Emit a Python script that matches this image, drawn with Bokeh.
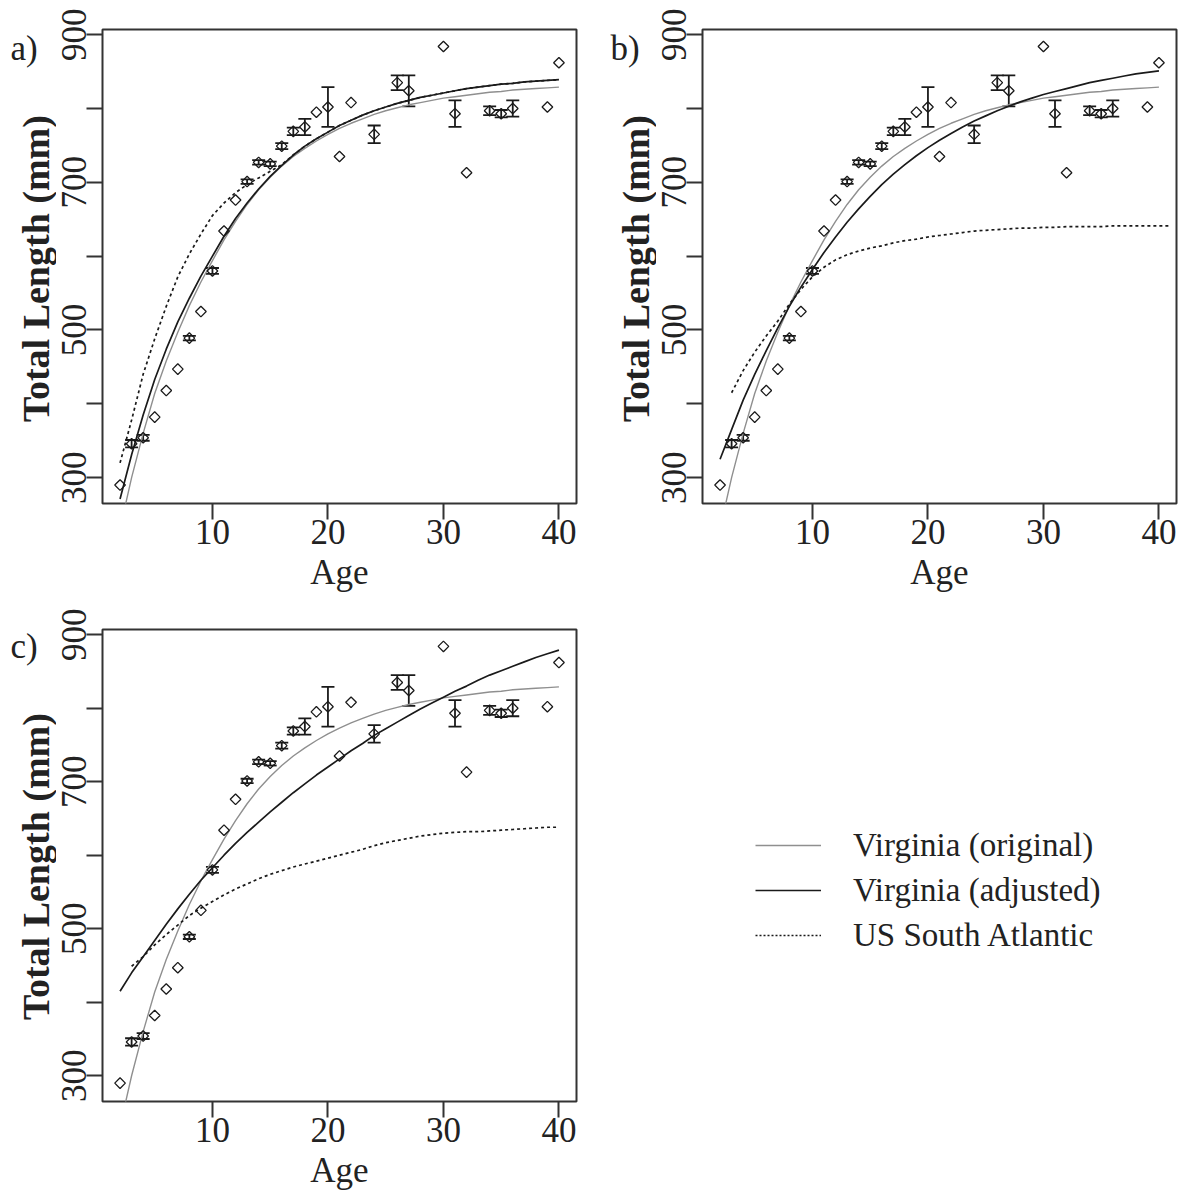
import numpy as np
from bokeh.plotting import figure
from bokeh.models import (ColumnDataSource, Whisker, TeeHead, Label, FixedTicker,
                          Legend, LegendItem, Range1d)
from bokeh.layouts import column, row
from bokeh.embed import file_html
from bokeh.resources import INLINE

# ---------------- data ----------------
pt_age = [2, 3, 4, 5, 6, 7, 8, 9, 10, 11, 12, 13, 14, 15, 16, 17, 18, 19, 20, 21, 22,
          24, 26, 27, 30, 31, 32, 34, 35, 36, 39, 40]
pt_len = [290, 346, 354, 382, 418, 447, 489, 525, 580, 634, 676, 701, 727, 725, 749, 769,
          775, 795, 802, 735, 808, 765, 835, 824, 884, 793, 713, 797, 793, 800, 802, 862]
pt_se = [0, 5, 4, 0, 0, 0, 3, 0, 4, 0, 0, 3, 3, 3, 4, 5, 11, 0, 27, 0, 0,
         12, 10, 21, 0, 18, 0, 6, 5, 11, 0, 0]

curve_age = [2, 3, 4, 5, 6, 7, 8, 9, 10, 11, 12, 13, 14, 15, 16, 17, 18, 19, 20, 21,
             22, 23, 24, 25, 26, 27, 28, 29, 30, 31, 32, 33, 34, 35, 36, 37, 38, 39, 40]

va_original = [231, 300, 360, 414, 458, 497, 533, 565, 594, 622, 647, 670, 690, 707, 722,
               735, 746, 756, 765, 773, 780, 786, 792, 797, 801, 805, 808, 811, 814, 816,
               818, 820, 822, 823, 825, 826, 827, 828, 829]

a_adjusted = [271, 331, 385, 433, 474, 511, 543, 573, 600, 627, 651, 672, 691, 708, 723,
              737, 749, 759, 768, 777, 784, 791, 797, 802, 807, 811, 815, 818, 821, 824,
              827, 829, 831, 833, 834, 836, 837, 838, 839]
a_sa_age = curve_age
a_south_atl = [320, 378, 440, 488, 532, 572, 603, 630, 655, 672, 686, 697, 706, 715, 724,
               737, 749, 759, 768, 777, 784, 791, 797, 802, 807, 811, 815, 818, 821, 824,
               827, 829, 831, 833, 834, 836, 837, 838, 839]

b_adjusted = [325, 365, 405, 440, 472, 503, 532, 558, 582, 605, 626, 646, 664, 681, 697,
              711, 724, 736, 747, 757, 766, 775, 783, 790, 797, 803, 809, 814, 819, 823,
              827, 831, 835, 838, 841, 844, 847, 849, 851]
b_sa_age = [3, 4, 5, 6, 7, 8, 9, 10, 11, 12, 13, 14, 15, 16, 17, 18, 19, 20, 21, 22, 23,
            24, 25, 26, 27, 28, 29, 30, 31, 32, 33, 34, 35, 36, 37, 38, 39, 40, 41]
b_south_atl = [415, 445, 470, 492, 512, 535, 555, 572, 585, 595, 602, 607, 611, 614, 618,
               621, 623, 626, 628, 630, 632, 634, 635, 636, 637, 638, 638, 639, 639, 640,
               640, 640, 640, 641, 641, 641, 641, 641, 641]

c_adjusted = [415, 440, 462, 484, 506, 527, 547, 566, 583, 600, 616, 631, 645, 659, 672,
              685, 697, 709, 720, 731, 742, 752, 763, 772, 781, 790, 799, 807, 815, 823,
              830, 838, 845, 851, 857, 863, 869, 874, 879]
c_sa_age = [3, 4, 5, 6, 7, 8, 9, 10, 11, 12, 13, 14, 15, 16, 17, 18, 19, 20, 21, 22, 23,
            24, 25, 26, 27, 28, 29, 30, 31, 32, 33, 34, 35, 36, 37, 38, 39, 40]
c_south_atl = [449, 462, 478, 492, 505, 518, 528, 537, 546, 554, 561, 568, 574, 579, 584,
               588, 592, 596, 600, 604, 608, 613, 617, 620, 623, 626, 628, 630, 631, 632,
               632, 633, 634, 635, 636, 637, 638, 638]

x_ticks = [10, 20, 30, 40]
y_ticks = [300, 400, 500, 600, 700, 800, 900]
y_labelled = [300, 500, 700, 900]
legend_labels = ["Virginia (original)", "Virginia (adjusted)", "US South Atlantic"]
panel_letters = ["a)", "b)", "c)"]
y_title = "Total Length (mm)"
x_title = "Age"

# ---------------- styling ----------------
FONT = "Liberation Serif"
GREY = "#8f8f8f"
INK = "#1a1a1a"
TXT = "#222222"
STRIP_W = 56
FRAME_H = 474  # plot box height; strips share the row's aligned frame


def blank(width, height):
    f = figure(width=width, height=height, output_backend="svg", toolbar_location=None,
               x_range=Range1d(0, 1), y_range=Range1d(0, 1), min_border=0,
               x_axis_location=None, y_axis_location=None)
    f.outline_line_color = None
    f.grid.visible = False
    f.background_fill_color = "white"
    f.border_fill_color = "white"
    return f


def strip(letter, height):
    s = blank(STRIP_W, height)
    # y positions measured from the bottom of the (row-aligned) frame
    s.add_layout(Label(x=10, y=FRAME_H - 19, x_units="screen", y_units="screen",
                       text=letter, text_font=FONT, text_font_size="35px", text_color=TXT,
                       text_align="left", text_baseline="middle"))
    s.add_layout(Label(x=35, y=FRAME_H / 2 - 2, x_units="screen", y_units="screen",
                       text=y_title, angle=np.pi / 2, text_font=FONT,
                       text_font_size="38px", text_font_style="bold", text_color=TXT,
                       text_align="center", text_baseline="middle"))
    return s


def make_panel(adjusted, sa_age, south_atl, width, height, bottom, right):
    p = figure(width=width, height=height, output_backend="svg", toolbar_location=None,
               x_range=Range1d(0.48, 41.52), y_range=Range1d(265, 907),
               min_border_left=102 - STRIP_W, min_border_right=right,
               min_border_top=29, min_border_bottom=bottom)
    p.background_fill_color = "white"
    p.border_fill_color = "white"
    p.outline_line_color = "#333333"
    p.outline_line_width = 2
    p.grid.visible = False

    p.xaxis.ticker = FixedTicker(ticks=x_ticks)
    p.yaxis.ticker = FixedTicker(ticks=y_ticks)
    p.yaxis.major_label_overrides = {t: "" for t in y_ticks if t not in y_labelled}
    for ax in p.axis:
        ax.axis_line_color = None
        ax.major_tick_out = 16
        ax.major_tick_in = 0
        ax.minor_tick_line_color = None
        ax.major_tick_line_width = 2
        ax.major_tick_line_color = "#333333"
        ax.major_label_text_font = FONT
        ax.major_label_text_font_size = "35px"
        ax.major_label_text_color = TXT
        ax.axis_label_text_font = FONT
        ax.axis_label_text_color = TXT
        ax.axis_label_text_font_style = "normal"
    p.yaxis.major_label_orientation = "vertical"
    p.yaxis.major_label_standoff = 0
    p.xaxis.major_label_standoff = 0
    p.xaxis.axis_label = x_title
    p.xaxis.axis_label_text_font_size = "35px"
    p.xaxis.axis_label_standoff = 6

    # curves
    p.line(curve_age, va_original, line_color=GREY, line_width=1.4)
    p.line(curve_age, adjusted, line_color=INK, line_width=1.7)
    p.line(sa_age, south_atl, line_color=INK, line_width=1.7, line_dash="3 3")

    # points with error bars
    src = ColumnDataSource(dict(age=pt_age, len=pt_len))
    p.scatter("age", "len", source=src, marker="square", angle=np.pi / 4, size=7.5,
              fill_color=None, line_color=INK, line_width=1.3)
    eb_age = [a for a, s in zip(pt_age, pt_se) if s > 0]
    eb_lo = [l - s for l, s in zip(pt_len, pt_se) if s > 0]
    eb_hi = [l + s for l, s in zip(pt_len, pt_se) if s > 0]
    esrc = ColumnDataSource(dict(base=eb_age, lower=eb_lo, upper=eb_hi))
    p.add_layout(Whisker(base="base", lower="lower", upper="upper", source=esrc,
                         line_color=INK, line_width=1.8,
                         upper_head=TeeHead(size=13, line_width=1.8, line_color=INK),
                         lower_head=TeeHead(size=13, line_width=1.8, line_color=INK)))
    return p


W_A = 600 - STRIP_W
W_B = 585 - STRIP_W
pa = make_panel(a_adjusted, a_sa_age, a_south_atl, W_A, 600, 97, 24)
pb = make_panel(b_adjusted, b_sa_age, b_south_atl, W_B, 600, 97, 9)
pc = make_panel(c_adjusted, c_sa_age, c_south_atl, W_A, 592, 89, 24)
sa = strip(panel_letters[0], 600)
sb = strip(panel_letters[1], 600)
sc = strip(panel_letters[2], 592)

# legend panel
pl = blank(585, 592)
r1 = pl.line([-5, -4], [-5, -4], line_color=GREY, line_width=1.4)
r2 = pl.line([-5, -4], [-5, -4], line_color=INK, line_width=1.7)
r3 = pl.line([-5, -4], [-5, -4], line_color=INK, line_width=1.7, line_dash="2 2")
leg = Legend(items=[LegendItem(label=legend_labels[0], renderers=[r1]),
                    LegendItem(label=legend_labels[1], renderers=[r2]),
                    LegendItem(label=legend_labels[2], renderers=[r3])],
             location=(155, 147), glyph_width=66, glyph_height=38, label_height=38,
             spacing=7, padding=0, margin=0, label_standoff=32,
             label_text_font=FONT, label_text_font_size="33px", label_text_color=TXT,
             border_line_color=None, background_fill_alpha=0)
pl.add_layout(leg)

layout = column(row(sa, pa, sb, pb), row(sc, pc, pl))
open("out.html", "w").write(file_html(layout, INLINE))
